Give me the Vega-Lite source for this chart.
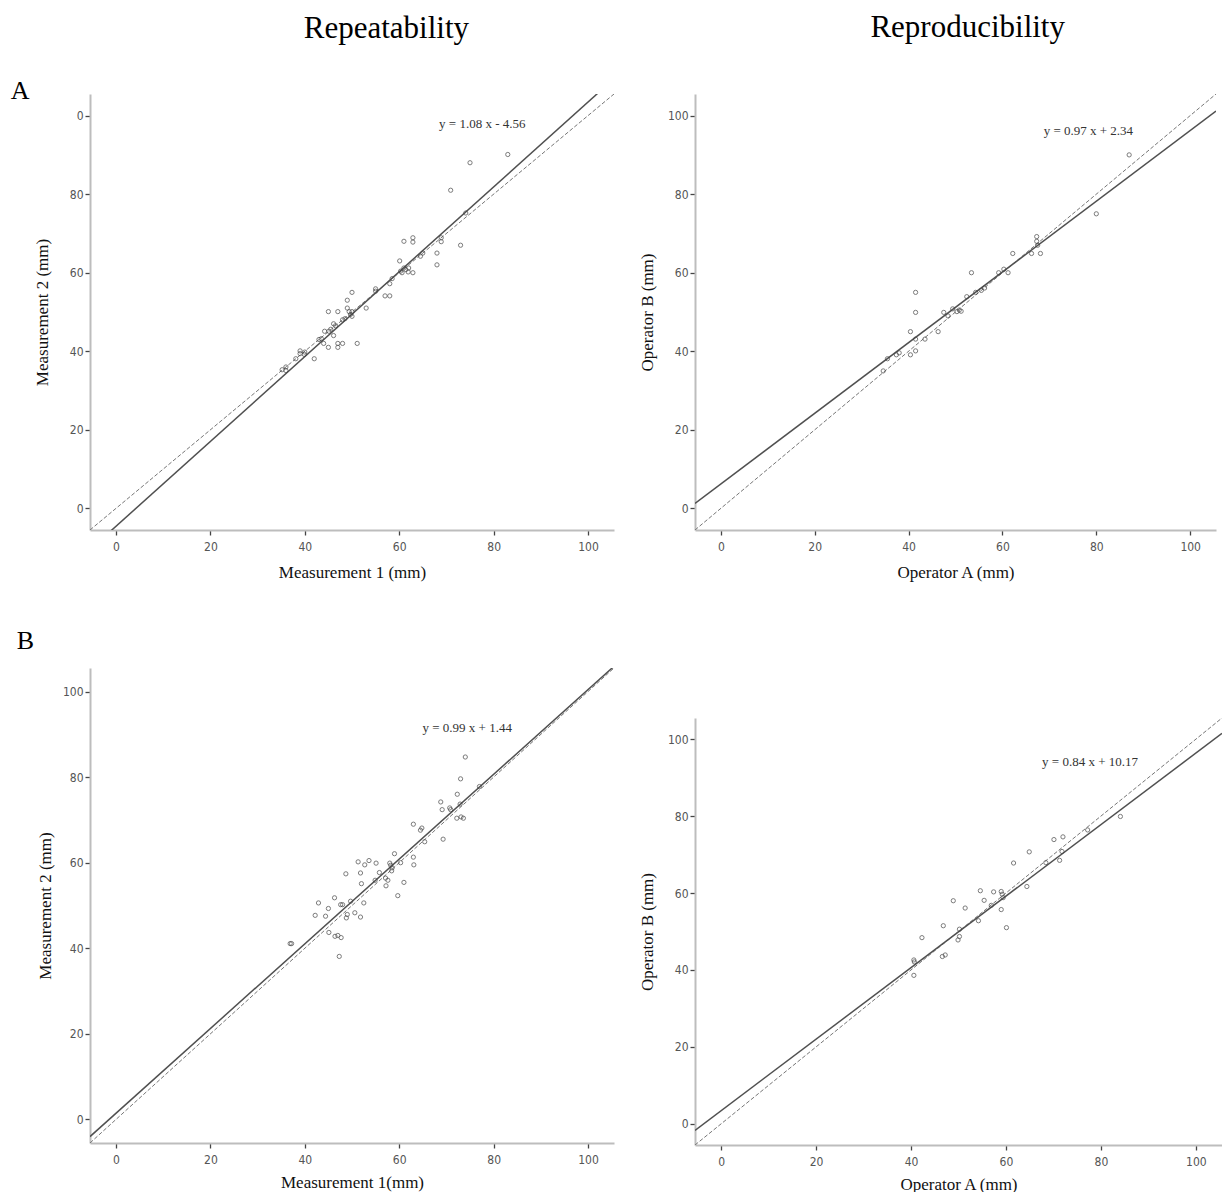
{
 "$schema": "https://vega.github.io/schema/vega-lite/v6.json",
 "padding": {"left": 10, "top": 12, "right": 0, "bottom": 0},
 "background": "white",
 "config": {
  "view": {"stroke": null},
  "font": "Liberation Serif",
  "axis": {"grid": false, "domainColor": "#bdbdbd", "domainWidth": 2, "tickColor": "#444", "tickWidth": 1.3, "tickSize": 5, "labelFont": "DejaVu Sans Condensed", "labelFontSize": 12, "labelColor": "#555", "labelPadding": 2, "titleFont": "Liberation Serif", "titleFontSize": 17, "titleFontWeight": "normal", "titleColor": "#111"},
  "axisX": {"labelPadding": 6},
  "title": {"font": "Liberation Serif", "fontWeight": "normal", "color": "#000"}
 },
 "datasets": {
  "AL": [{"x":83,"y":90.1},{"x":75,"y":88},{"x":70.9,"y":81},{"x":74.1,"y":75.2},{"x":73,"y":67},{"x":61,"y":68},{"x":62.9,"y":68.9},{"x":62.9,"y":67.8},{"x":68.9,"y":68.9},{"x":68.9,"y":67.9},{"x":65,"y":65},{"x":68,"y":65},{"x":68,"y":62},{"x":60.1,"y":63},{"x":60.3,"y":60.4},{"x":61,"y":61.2},{"x":61.4,"y":60.8},{"x":61.9,"y":60.2},{"x":62.9,"y":60},{"x":62,"y":61.2},{"x":60.6,"y":60},{"x":58,"y":57.2},{"x":57,"y":54.1},{"x":58,"y":54.1},{"x":55,"y":55.9},{"x":55,"y":55.3},{"x":53,"y":51},{"x":50,"y":55},{"x":49,"y":53},{"x":49,"y":51},{"x":49.4,"y":50.1},{"x":50,"y":48.9},{"x":50,"y":50.1},{"x":49.7,"y":49.4},{"x":45,"y":50.1},{"x":47,"y":50.1},{"x":48,"y":48},{"x":46.1,"y":47},{"x":44.2,"y":45.1},{"x":45.1,"y":45.1},{"x":46.1,"y":44},{"x":43,"y":43},{"x":44,"y":42},{"x":45,"y":41},{"x":47,"y":42},{"x":47,"y":41},{"x":48,"y":42},{"x":51.1,"y":42},{"x":42,"y":38.1},{"x":39,"y":40.1},{"x":39,"y":39.4},{"x":38.1,"y":38.1},{"x":39.9,"y":39.2},{"x":36,"y":36},{"x":36,"y":35.1},{"x":35.2,"y":35.3},{"x":43.5,"y":43.2},{"x":45.5,"y":45.6},{"x":46.5,"y":46.5},{"x":48.5,"y":48.3},{"x":40,"y":39.8},{"x":58.5,"y":58.5},{"x":64.5,"y":64.2}],
  "AR": [{"x":87,"y":90},{"x":80,"y":75},{"x":67.3,"y":69.2},{"x":67.3,"y":68},{"x":67.5,"y":67},{"x":62.2,"y":64.9},{"x":66.2,"y":64.9},{"x":68.1,"y":64.9},{"x":61.2,"y":60},{"x":60.3,"y":60.9},{"x":59.2,"y":60},{"x":53.4,"y":60},{"x":56.2,"y":56.1},{"x":54.3,"y":55},{"x":52.4,"y":53.9},{"x":50.3,"y":50.1},{"x":49.4,"y":50.8},{"x":47.5,"y":49.9},{"x":48.4,"y":49},{"x":50.8,"y":50.5},{"x":46.3,"y":45},{"x":41.5,"y":55},{"x":41.5,"y":49.9},{"x":40.4,"y":45},{"x":41.5,"y":43.1},{"x":43.5,"y":43.1},{"x":40.4,"y":39.1},{"x":41.5,"y":40.1},{"x":37.4,"y":39.1},{"x":35.5,"y":38.1},{"x":34.6,"y":35},{"x":38,"y":39.6},{"x":55.5,"y":55.5},{"x":51.2,"y":50.2}],
  "BL": [{"x":74,"y":84.7},{"x":73,"y":79.6},{"x":72.3,"y":76},{"x":77,"y":77.8},{"x":68.8,"y":74.2},{"x":69.1,"y":72.4},{"x":70.9,"y":72.4},{"x":70.7,"y":72.8},{"x":72.9,"y":73.7},{"x":72.2,"y":70.4},{"x":73.1,"y":70.7},{"x":73.6,"y":70.4},{"x":63,"y":69},{"x":64.8,"y":68.1},{"x":64.5,"y":67.6},{"x":65.4,"y":64.9},{"x":69.3,"y":65.5},{"x":59,"y":62.1},{"x":63,"y":61.3},{"x":63.1,"y":59.5},{"x":60.3,"y":60},{"x":58,"y":59.9},{"x":58.2,"y":59.4},{"x":58.5,"y":58.8},{"x":58.4,"y":58.1},{"x":55.1,"y":59.9},{"x":53.6,"y":60.5},{"x":52.7,"y":59.5},{"x":51.3,"y":60.2},{"x":55.8,"y":57.7},{"x":51.8,"y":57.6},{"x":48.7,"y":57.4},{"x":57.1,"y":56.4},{"x":57.6,"y":55.9},{"x":54.9,"y":55.9},{"x":61,"y":55.4},{"x":52,"y":55.1},{"x":57.2,"y":54.6},{"x":59.7,"y":52.3},{"x":46.3,"y":51.8},{"x":42.9,"y":50.6},{"x":45,"y":49.3},{"x":47.6,"y":50.2},{"x":48,"y":50.2},{"x":49.7,"y":51},{"x":52.5,"y":50.6},{"x":42.2,"y":47.7},{"x":44.4,"y":47.5},{"x":49,"y":47.9},{"x":48.8,"y":47.1},{"x":50.6,"y":48.3},{"x":51.8,"y":47.3},{"x":36.9,"y":41.1},{"x":37.2,"y":41.1},{"x":45.1,"y":43.7},{"x":46.4,"y":42.8},{"x":47,"y":43},{"x":47.7,"y":42.5},{"x":47.3,"y":38.1}],
  "BR": [{"x":84.1,"y":79.9},{"x":77.2,"y":76.4},{"x":72,"y":74.6},{"x":70.1,"y":73.9},{"x":71.8,"y":70.8},{"x":71.3,"y":68.5},{"x":68.4,"y":67.9},{"x":64.9,"y":70.7},{"x":61.6,"y":67.8},{"x":64.4,"y":61.7},{"x":54.6,"y":60.6},{"x":57.4,"y":60.3},{"x":59,"y":60.4},{"x":59.2,"y":59.7},{"x":59.4,"y":58.8},{"x":55.4,"y":58.1},{"x":56.9,"y":56.8},{"x":59,"y":55.7},{"x":48.9,"y":58},{"x":51.4,"y":56.1},{"x":54.2,"y":52.8},{"x":60.1,"y":51},{"x":46.8,"y":51.5},{"x":50.2,"y":50.6},{"x":50.2,"y":48.7},{"x":49.9,"y":47.8},{"x":42.3,"y":48.4},{"x":46.6,"y":43.5},{"x":47.2,"y":43.9},{"x":40.6,"y":42.6},{"x":40.7,"y":42.1},{"x":40.6,"y":38.6}],
  "lines": [
   {"panel":"AL","kind":"fit","x":-5.5,"y":-10.5},{"panel":"AL","kind":"fit","x":105.5,"y":109.4},
   {"panel":"AR","kind":"fit","x":-5.5,"y":1.25},{"panel":"AR","kind":"fit","x":105.5,"y":101.15},
   {"panel":"BL","kind":"fit","x":-5.5,"y":-4.0},{"panel":"BL","kind":"fit","x":105.5,"y":105.9},
   {"panel":"BR","kind":"fit","x":-5.5,"y":-1.7},{"panel":"BR","kind":"fit","x":105.5,"y":101.5},
   {"panel":"all","kind":"identity","x":-5.5,"y":-5.5},{"panel":"all","kind":"identity","x":105.5,"y":105.5}
  ]
 },
 "spacing": 24,
 "hconcat": [
  {
   "title": {"text": "Repeatability", "fontSize": 31, "offset": 33, "anchor": "start", "dx": 293},
   "spacing": 48,
   "vconcat": [
    {
     "width": 524, "height": 436,
     "title": {"text": "A", "orient": "left", "anchor": "end", "angle": 0, "fontSize": 26, "offset": -15, "dy": -16},
     "layer": [
      {"data": {"name": "lines"}, "transform": [{"filter": "datum.kind == 'identity'"}],
       "mark": {"type": "line", "clip": true, "color": "#777", "strokeWidth": 1, "strokeDash": [4, 2]},
       "encoding": {
        "x": {"field": "x", "type": "quantitative", "scale": {"domain": [-5.5, 105.5], "nice": false, "zero": false}, "axis": {"title": "Measurement 1 (mm)", "values": [0, 20, 40, 60, 80, 100], "titlePadding": 12}},
        "y": {"field": "y", "type": "quantitative", "scale": {"domain": [-5.5, 105.5], "nice": false, "zero": false}, "axis": {"title": "Measurement 2 (mm)", "values": [0, 20, 40, 60, 80, 100], "titlePadding": 18, "labelExpr": "datum.value == 100 ? '0' : datum.label"}}
       }},
      {"data": {"name": "lines"}, "transform": [{"filter": "datum.panel == 'AL'"}],
       "mark": {"type": "line", "clip": true, "color": "#505050", "strokeWidth": 1.5},
       "encoding": {"x": {"field": "x", "type": "quantitative"}, "y": {"field": "y", "type": "quantitative"}}},
      {"data": {"name": "AL"},
       "mark": {"type": "point", "shape": "circle", "filled": false, "size": 18, "stroke": "#444", "strokeWidth": 1},
       "encoding": {"x": {"field": "x", "type": "quantitative"}, "y": {"field": "y", "type": "quantitative"}}},
      {"data": {"values": [{}]},
       "mark": {"type": "text", "text": "y = 1.08 x - 4.56", "font": "Liberation Serif", "fontSize": 13, "color": "#333"},
       "encoding": {"x": {"datum": 77.6, "type": "quantitative"}, "y": {"datum": 97.8, "type": "quantitative"}}}
     ]
    },
    {
     "width": 524, "height": 475,
     "title": {"text": "B", "orient": "left", "anchor": "end", "angle": 0, "fontSize": 26, "offset": -15, "dy": -40},
     "layer": [
      {"data": {"name": "lines"}, "transform": [{"filter": "datum.kind == 'identity'"}],
       "mark": {"type": "line", "clip": true, "color": "#777", "strokeWidth": 1, "strokeDash": [4, 2]},
       "encoding": {
        "x": {"field": "x", "type": "quantitative", "scale": {"domain": [-5.5, 105.5], "nice": false, "zero": false}, "axis": {"title": "Measurement 1(mm)", "values": [0, 20, 40, 60, 80, 100], "titlePadding": 9}},
        "y": {"field": "y", "type": "quantitative", "scale": {"domain": [-5.5, 105.5], "nice": false, "zero": false}, "axis": {"title": "Measurement 2 (mm)", "values": [0, 20, 40, 60, 80, 100], "titlePadding": 8}}
       }},
      {"data": {"name": "lines"}, "transform": [{"filter": "datum.panel == 'BL'"}],
       "mark": {"type": "line", "clip": true, "color": "#505050", "strokeWidth": 1.5},
       "encoding": {"x": {"field": "x", "type": "quantitative"}, "y": {"field": "y", "type": "quantitative"}}},
      {"data": {"name": "BL"},
       "mark": {"type": "point", "shape": "circle", "filled": false, "size": 18, "stroke": "#444", "strokeWidth": 1},
       "encoding": {"x": {"field": "x", "type": "quantitative"}, "y": {"field": "y", "type": "quantitative"}}},
      {"data": {"values": [{}]},
       "mark": {"type": "text", "text": "y = 0.99 x + 1.44", "font": "Liberation Serif", "fontSize": 13, "color": "#333"},
       "encoding": {"x": {"datum": 74.4, "type": "quantitative"}, "y": {"datum": 91.4, "type": "quantitative"}}}
     ]
    }
   ]
  },
  {
   "title": {"text": "Reproducibility", "fontSize": 31, "offset": 50, "anchor": "start", "dx": 232},
   "spacing": 138,
   "vconcat": [
    {
     "width": 521, "height": 436,
     "layer": [
      {"data": {"name": "lines"}, "transform": [{"filter": "datum.kind == 'identity'"}],
       "mark": {"type": "line", "clip": true, "color": "#777", "strokeWidth": 1, "strokeDash": [4, 2]},
       "encoding": {
        "x": {"field": "x", "type": "quantitative", "scale": {"domain": [-5.5, 105.5], "nice": false, "zero": false}, "axis": {"title": "Operator A (mm)", "values": [0, 20, 40, 60, 80, 100], "titlePadding": 12}},
        "y": {"field": "y", "type": "quantitative", "scale": {"domain": [-5.5, 105.5], "nice": false, "zero": false}, "axis": {"title": "Operator B (mm)", "values": [0, 20, 40, 60, 80, 100], "titlePadding": 11}}
       }},
      {"data": {"name": "lines"}, "transform": [{"filter": "datum.panel == 'AR'"}],
       "mark": {"type": "line", "clip": true, "color": "#505050", "strokeWidth": 1.5},
       "encoding": {"x": {"field": "x", "type": "quantitative"}, "y": {"field": "y", "type": "quantitative"}}},
      {"data": {"name": "AR"},
       "mark": {"type": "point", "shape": "circle", "filled": false, "size": 18, "stroke": "#444", "strokeWidth": 1},
       "encoding": {"x": {"field": "x", "type": "quantitative"}, "y": {"field": "y", "type": "quantitative"}}},
      {"data": {"values": [{}]},
       "mark": {"type": "text", "text": "y = 0.97 x + 2.34", "font": "Liberation Serif", "fontSize": 13, "color": "#333"},
       "encoding": {"x": {"datum": 78.3, "type": "quantitative"}, "y": {"datum": 96.2, "type": "quantitative"}}}
     ]
    },
    {
     "width": 527, "height": 427,
     "layer": [
      {"data": {"name": "lines"}, "transform": [{"filter": "datum.kind == 'identity'"}],
       "mark": {"type": "line", "clip": true, "color": "#777", "strokeWidth": 1, "strokeDash": [4, 2]},
       "encoding": {
        "x": {"field": "x", "type": "quantitative", "scale": {"domain": [-5.5, 105.5], "nice": false, "zero": false}, "axis": {"title": "Operator A (mm)", "values": [0, 20, 40, 60, 80, 100], "titlePadding": 9}},
        "y": {"field": "y", "type": "quantitative", "scale": {"domain": [-5.5, 105.5], "nice": false, "zero": false}, "axis": {"title": "Operator B (mm)", "values": [0, 20, 40, 60, 80, 100], "titlePadding": 11}}
       }},
      {"data": {"name": "lines"}, "transform": [{"filter": "datum.panel == 'BR'"}],
       "mark": {"type": "line", "clip": true, "color": "#505050", "strokeWidth": 1.5},
       "encoding": {"x": {"field": "x", "type": "quantitative"}, "y": {"field": "y", "type": "quantitative"}}},
      {"data": {"name": "BR"},
       "mark": {"type": "point", "shape": "circle", "filled": false, "size": 18, "stroke": "#444", "strokeWidth": 1},
       "encoding": {"x": {"field": "x", "type": "quantitative"}, "y": {"field": "y", "type": "quantitative"}}},
      {"data": {"values": [{}]},
       "mark": {"type": "text", "text": "y = 0.84 x + 10.17", "font": "Liberation Serif", "fontSize": 13, "color": "#333"},
       "encoding": {"x": {"datum": 77.7, "type": "quantitative"}, "y": {"datum": 94, "type": "quantitative"}}}
     ]
    }
   ]
  }
 ]
}
